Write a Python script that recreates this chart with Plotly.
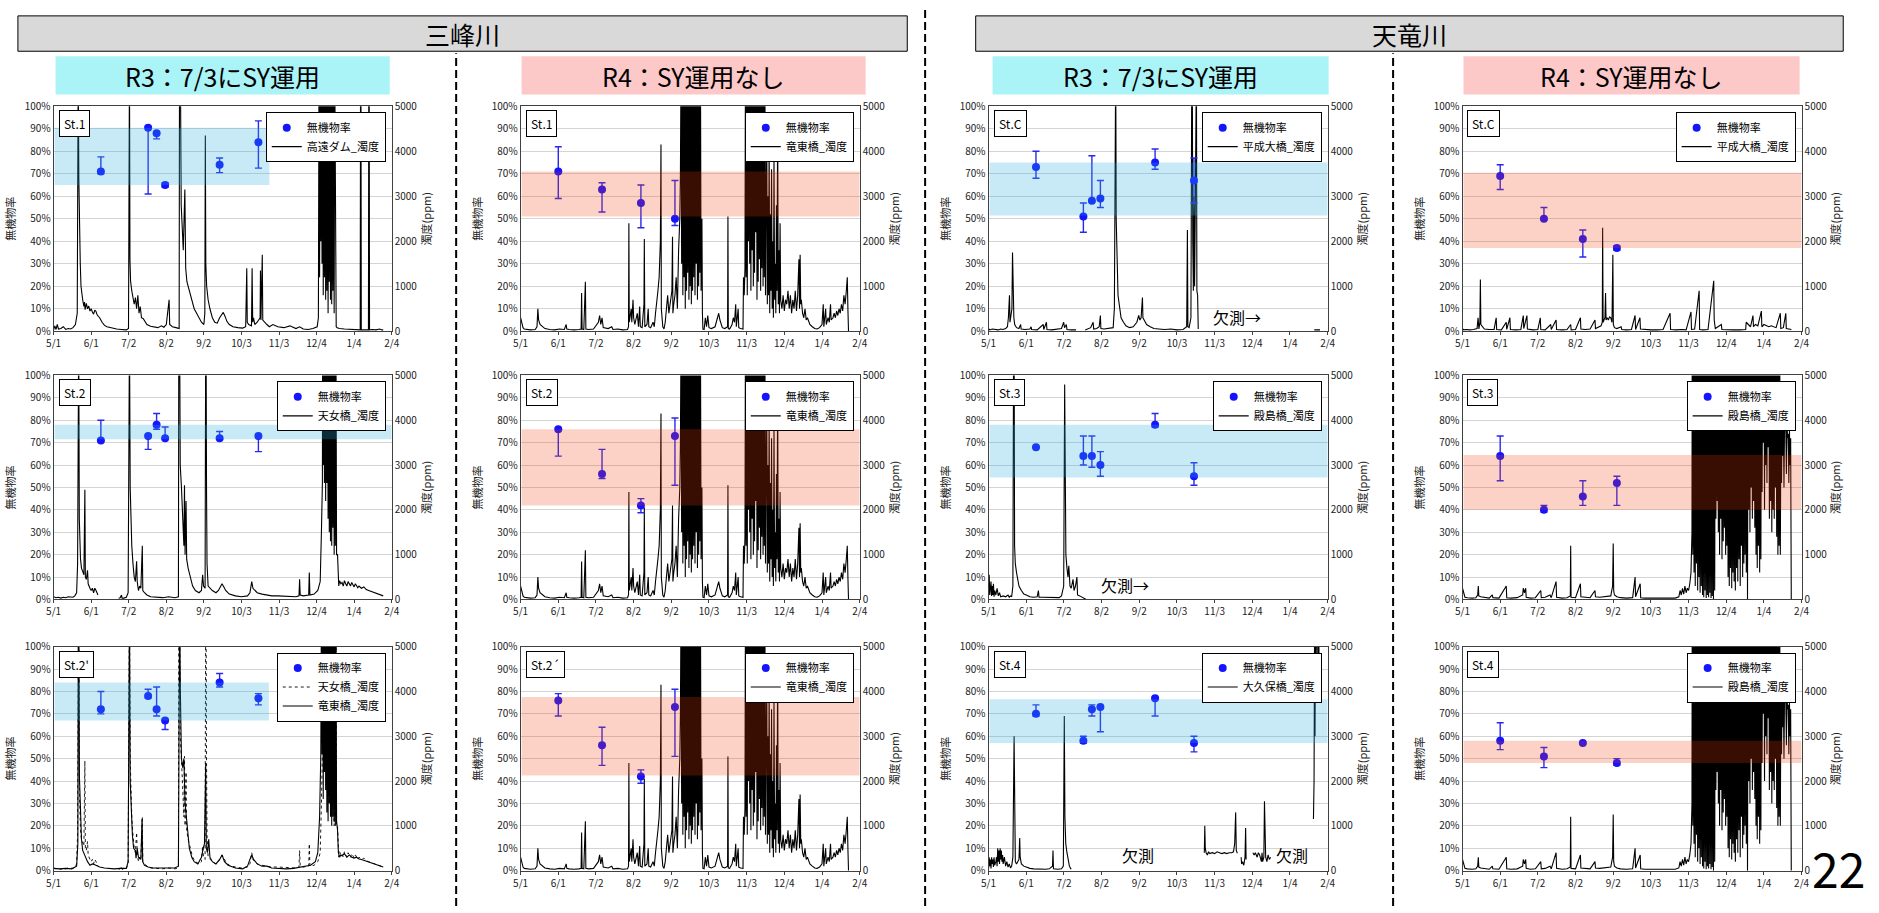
import pandas as pd
import plotly.graph_objects as go

W, H = 1879, 913
OFF = 6000  # turbidity peaks that run off the 5000 ppm scale

# ---------------- axis ticks ----------------
TICK_DAYS = [0, 31, 62, 93, 124, 155, 186, 217, 248, 279]
TICK_TEXT = ["5/1", "6/1", "7/2", "8/2", "9/2", "10/3", "11/3", "12/4", "1/4", "2/4"]
PCT_TICKS = list(range(0, 101, 10))
PCT_TEXT = [f"{v}%" for v in PCT_TICKS]
PPM_TICKS = [0, 1000, 2000, 3000, 4000, 5000]

# ---------------- sampling dates of 無機物率 ----------------
R3_SAMPLE = ["06-09", "07-18", "07-25", "08-01", "09-15", "10-17"]
R4_SAMPLE = ["06-01", "07-07", "08-08", "09-05"]

# ---------------- 無機物率 (%) with error bars ----------------
ST1_R3 = [71, 90.5, 88, 65, 74, 84]
ST1_R3_HI = [6.5, 0.5, 0.3, 1, 3, 9.5]
ST1_R3_LO = [1, 29.5, 2.5, 1, 3.5, 11.5]
ST2_R3 = [71, 73, 78, 72, 72, 73]
ST2_R3_HI = [9, 0.3, 5, 5, 3, 0.3]
ST2_R3_LO = [0.3, 6, 2, 0.3, 0.3, 7]
ST2D_R3 = [72, 78, 72, 67, 84, 77]
ST2D_R3_HI = [8, 3, 10, 0.5, 4, 2]
ST2D_R3_LO = [2, 1, 3, 4, 2, 3]
STC_R3 = [73, 51, 58, 59, 75, 67]
STC_R3_HI = [7, 6, 20, 8, 6, 10]
STC_R3_LO = [5, 7, 0.3, 4, 3, 10]
ST3_R3 = [68, 64, 64, 60, 78, 55]
ST3_R3_HI = [0.3, 9, 9, 6, 5, 6]
ST3_R3_LO = [0.3, 4, 5, 5, 1, 4]
ST4_R3 = [70, 58, 72, 73, 77, 57]
ST4_R3_HI = [4, 2, 2, 0.3, 0.3, 3]
ST4_R3_LO = [1, 1, 3, 11, 8, 4]

ST1_R4 = [71, 63, 57, 50]
ST1_R4_HI = [11, 3, 8, 17]
ST1_R4_LO = [12, 10, 11, 3]
ST2_R4 = [76, 56, 42, 73]
ST2_R4_HI = [0.5, 11, 3, 8]
ST2_R4_LO = [12, 2, 3.3, 22]
ST2D_R4 = [76, 56, 42, 73]
ST2D_R4_HI = [3, 8, 3, 8]
ST2D_R4_LO = [7, 9, 3, 22]
STC_R4 = [69, 50, 41, 37]
STC_R4_HI = [5, 5, 4, 1]
STC_R4_LO = [6, 0.3, 8, 1]
ST3_R4 = [64, 40, 46, 52]
ST3_R4_HI = [9, 2, 7, 3]
ST3_R4_LO = [11, 1, 4, 10]
ST4_R4 = [58, 51, 57, 48]
ST4_R4_HI = [8, 4, 0.3, 2]
ST4_R4_LO = [4, 5, 0.3, 1]

# ---------------- turbidity (days after 5/1, ppm) ----------------
def dense(start, lows, tops=None):
    pts = []
    for k, lo in enumerate(lows):
        top = OFF if tops is None else tops[k]
        pts.append((start + k, top))
        pts.append((start + k + 0.5, lo))
    return pts

TAKATO_R3_A = [(0,30),(1,120),(2,40),(3,150),(4,50),(6,60),(8,100),(10,40),(12,60),(14,50),(16,80),(18,150),
    (19.5,400),(20.3,OFF),(20.8,3400),(21.3,2300),(22,1500),(22.6,1000),(23.3,800),(24,700),(25,550),(25.5,650),
    (26,480),(27,620),(28,500),(29,560),(30,450),(31,500),(32,430),(33,380),(34,470),(35,440),(36,360),(37,330),
    (38,300),(40,200),(42,130),(44,100),(48,70),(52,50),(56,40),(60,30),(61.8,60),(62.2,OFF),(62.6,OFF),(63,1600),
    (63.5,1120),(64.5,900),(65.5,700),(66.5,600),(67.5,750),(68.5,500),(69.5,800),(70.5,400),(71.5,550),(72.5,300),
    (74,280),(75.5,200),(77,150),(80,110),(83,100),(86,80),(89,120),(91,90),(93,150),(95.3,700),(95.8,150),(98,100),
    (101,80),(103.6,60),(103.9,OFF),(104.6,OFF),(105.3,2800),(106,2200),(107,1800),(108.3,3150),(109,1400),
    (110,1100),(111,1000),(112.5,800),(114,650),(116,500),(118,400),(120,300),(122,200),(124,150),(124.8,400),
    (125.2,4350),(125.6,1500),(126.3,1000),(127.5,700),(129,500),(131,300),(133,200),(135,180),(137,300),
    (139,380),(140,420),(141.5,330),(143,220),(145,150),(148,100),(152,80),(156,70),(158.5,100),(159.4,1400),
    (159.8,200),(161,150),(163.3,120),(163.8,1400),(164.3,200),(165,300),(166,150),(168,200),(170.4,300),
    (170.7,1350),(171.1,250),(172.2,1700),(172.6,250),(174,200),(176,150),(178,100),(181,150),(185,100),
    (190,80),(195,120),(200,60),(203,100),(206,50),(210,40),(214,60),(217.5,100),(218.5,300)]
TAKATO_R3_LOWS = [1200, 2000, 1500, 800, 1200, 700, 900, 400, 1100, 700, 600, 900, 400, 1000]
TAKATO_R3_B = [(233.2,100),(234,80),(236,60),(240,50),(245,40),(250,40),(253,30),(253.3,OFF),(253.6,OFF),
    (253.9,30),(256,30),(259.8,30),(260.1,OFF),(260.4,OFF),(260.7,30),(263,40),(266,30),(269,50),(271,30),(272,30)]
TAKATO_R3 = TAKATO_R3_A + dense(219, TAKATO_R3_LOWS) + TAKATO_R3_B

TENNYO_R3_A = [(0,60),(2,40),(4,50),(6,30),(8,50),(10,40),(12,60),(14,50),(16,50),(17.5,80),(19,150),(19.8,800),
    (20.3,OFF),(20.7,OFF),(21.2,1800),(21.6,1300),(22.2,900),(23,700),(24,600),(25,550),(25.8,2450),(26.2,500),
    (27,450),(28,650),(28.5,350),(29,300),(30,250),(31,200),(32,250),(33,150),(34,250),(35,200),(36,150),
    (36.6,100), None, (53.7,30),(55,40),(56,100),(56.5,30),(58,30),(60,50),(61.5,150),(61.8,2900),(62.3,OFF),
    (62.6,OFF),(63.2,2500),(63.7,1800),(64.5,1200),(65.5,800),(66.5,500),(67.5,400),(68.5,850),(69,400),(70,200),
    (71,300),(72,250),(73.2,1200),(73.6,200),(75,150),(77,100),(80,60),(85,50),(90,40),(95,60),(100,40),(103,60),
    (103.3,OFF),(104,OFF),(104.5,3000),(105.5,2500),(106.5,1800),(107.5,1200),(108,2550),(108.5,1000),
    (109.3,2200),(109.8,900),(111,700),(113,500),(114.7,300),(117,200),(120,150),(122,200),(123,550),(123.7,300),
    (125,250),(125.5,OFF),(125.8,OFF),(126.2,2400),(126.6,800),(127.5,300),(129,250),(131,200),(134,150),
    (136,200),(138,300),(139,350),(140.5,280),(142,200),(145,120),(150,80),(155,60),(160,80),(162,150),
    (163.5,400),(164.5,250),(166,200),(168,150),(172,120),(176,100),(178,100),(180,80),(185,80),(190,70),
    (195,60),(200,60),(202.5,80),(203,450),(203.5,100),(206,80),(210.5,100),(211,600),(211.5,100),(215,120),
    (218,200),(220,400),(221,1500),(221.8,2600)]
TENNYO_R3_LOWS = [3000, 2600, 2200, 2600, 1800, 1500, 1300, 1200, 1600, 1000, 1200, 1000]
TENNYO_R3_B = [(234.3,1000),(235.3,300),(236,420),(237,350),(238,380),(239,300),(240,420),(241,350),(242,300),
    (243,400),(244,350),(245,300),(246,380),(247,320),(248,280),(249,350),(250,300),(251,260),(252,300),
    (254,250),(256,280),(258,220),(260,200),(262,180),(264,160),(266,140),(268,120),(270,100),(272,80)]
TENNYO_R3 = TENNYO_R3_A + dense(222, TENNYO_R3_LOWS) + TENNYO_R3_B

RYUTO_R3_A = [(0,50),(5,40),(10,50),(15,40),(19,100),(20,600),(20.4,OFF),(20.8,OFF),(21.3,2100),(22,1200),
    (23,700),(24,450),(25,380),(26,300),(28,200),(30,120),(32,150),(34,130),(36,100),(38,80),(42,60),(46,50),
    (50,40),(55,50),(58,40),(60,50),(61.5,200),(61.9,2400),(62.3,OFF),(62.6,OFF),(63.2,2000),(64,1200),(65,800),
    (66,500),(67.5,450),(68,280),(69,500),(70,300),(72,250),(73,1150),(73.5,200),(75,120),(78,80),(82,60),
    (88,60),(95,50),(100,60),(103,100),(103.4,OFF),(104,OFF),(104.6,4000),(105.5,2500),(106.5,2300),
    (107.5,2500),(108.5,1500),(109.5,1200),(110.5,800),(112,500),(114,300),(116,200),(119,150),(122,300),
    (123.5,500),(124.5,600),(125.5,2400),(126,500),(127,400),(128,700),(129,300),(131,200),(134,150),
    (137,250),(139,350),(141,200),(144,120),(150,60),(156,40),(160,100),(162,250),(163.5,350),(165,250),
    (168,150),(172,100),(176,100),(180,60),(186,50),(192,40),(198,50),(203,80),(208,100),(212,120),(216,200),
    (218,400),(219.5,1200),(220.5,2600)]
RYUTO_R3_LOWS = [2600, 1600, 2200, 1800, 1300, 1100, 1500, 1200, 1000, 1200, 1100, 1000, 1100]
RYUTO_R3_B = [(234.3,900),(235,400),(236,300),(237,350),(238,330),(240,380),(242,300),(244,350),(246,300),
    (248,280),(250,300),(252,260),(254,250),(256,230),(258,220),(260,200),(263,170),(266,140),(269,110),(272,80)]
RYUTO_R3 = RYUTO_R3_A + dense(221, RYUTO_R3_LOWS) + RYUTO_R3_B

RYUTO_R4_A = [(0,300),(0.5,250),(1,150),(2,80),(3,50),(5,40),(8,30),(12,40),(13.5,100),(14.2,500),(14.8,250),
    (16,150),(18,100),(20,60),(24,40),(28,30),(32,50),(36,40),(37.5,150),(38,50),(40,40),(44,30),(48,40),
    (49.8,50),(50.2,850),(50.6,50),(52,40),(53.3,1100),(53.7,50),(56,40),(60,50),(64,200),(65,350),(66,150),
    (67,300),(68,80),(72,60),(75,100),(76,40),(80,50),(84,30),(88,40),(88.8,100),(89.1,2400),(89.4,200),
    (90,300),(91,500),(91.5,200),(92.5,700),(93,300),(94,150),(96,400),(97,100),(98,550),(98.5,100),(100,80),
    (101.5,600),(101.8,2050),(102.2,100),(104,150),(105,500),(105.5,100),(107,80),(109,200),(110,100),
    (111,400),(112,600),(113,900),(114,1200),(115,2000),(115.5,4150),(115.8,500),(117,100),(118,50),(119,200),
    (120,500),(121,800),(122,400),(123,600),(124.5,900),(125,2100),(125.3,400),(126,600),(127,800),(128,1200),
    (129,500),(130,1800),(131,2500),(131.5,3500)]
RYUTO_R4_LOWS1 = [1500, 800, 1200, 500, 900, 1300, 700, 1000, 600, 900, 1200, 800, 1500, 700, 1000, 1300, 900]
RYUTO_R4_B = [(149.2,2500),(149.6,400),(150,50),(151,40),(152,300),(153,100),(154,350),(155,80),(157,60),
    (160,100),(162,300),(163,400),(164,250),(165,150),(166,80),(168,60),(170.3,100),(170.6,2550),(170.9,60),
    (172,50),(174,150),(175,300),(176,200),(177,600),(177.5,100),(179,500),(179.5,80),(181,60),(183,50),
    (183.4,1200),(184,800),(184.6,1400)]
RYUTO_R4_LOWS2 = [1200, 800, 2000, 1500, 900, 1800, 1000, 1300, 2200, 700, 1100, 1600, 900, 1400, 1000, 1200, 800]
RYUTO_R4_C = [(202.5,4800),(203,600),(203.5,3000),(204,800),(204.5,4300),(205,400),(205.5,2600),(206,900),
    (206.5,3600),(207,500),(207.5,2000),(208,300),(208.5,3900),(209,700),(209.5,1500),(210,400),(210.5,2800),
    (211,900),(211.5,4800),(212,600),(212.5,1800),(213,400),(213.5,2400),(214,700),(215,500),(216,800),
    (217,450),(218,700),(219,600),(220,900),(221,500),(222,800),(223,400),(224,700),(225,500),(226,900),
    (227,450),(228,800),(229,1600),(229.5,500),(230,1700),(230.5,600),(231,700),(232,400),(233,300),(234,500),
    (235,250),(236,300),(237,200),(238,150),(240,100),(242,60),(244,50),(246,80),(248,150),(249,600),
    (249.5,100),(250,200),(251,500),(251.5,150),(253,300),(254,200),(255,600),(255.5,250),(257,300),(258,400),
    (259,300),(260,450),(261,350),(262,500),(263,400),(264,600),(265,450),(266,800),(267,600),(268,900),
    (268.8,1200),(269.3,500),(269.8,0)]
RYUTO_R4 = RYUTO_R4_A + dense(132, RYUTO_R4_LOWS1) + RYUTO_R4_B + dense(185, RYUTO_R4_LOWS2) + RYUTO_R4_C

HEISEI_R3 = [(0,60),(1,30),(3,50),(5,40),(8,30),(10,50),(12,40),(14,60),(15.5,100),(16.3,300),(17.2,800),
    (17.6,200),(18.3,300),(19.2,500),(19.7,1750),(20.2,1000),(20.8,300),(21.5,150),(23,80),(25,60),(26.4,150),
    (26.8,50),(30,40),(34,50),(35,100),(35.4,40),(40,30),(45,150),(45.4,40),(47.6,200),(48,40),(52,30),(56,40),
    (60,60),(61.8,200),(62.5,80),(64,150),(64.5,40),(68,30),(72,30), None, (79.5,30),(82,50),(84,80),(86,200),
    (86.5,50),(89,60),(91,100),(92,350),(92.4,60),(95,50),(100,60),(102.5,80),(103.5,500),(104.2,OFF),
    (104.6,OFF),(105,2500),(105.7,1200),(106.5,800),(107.5,600),(109,300),(111,200),(113,120),(116,80),
    (119,100),(122,200),(123.5,350),(124.5,250),(125.5,300),(126.6,750),(127,300),(128,250),(130,150),
    (133,100),(136,60),(140,50),(145,40),(150,50),(155,30),(160,40),(163,100),(163.6,2250),(164,100),(165,80),
    (166.5,300),(167.2,OFF),(167.6,OFF),(168,2000),(168.5,900),(169,3000),(169.5,1000),(170,2500),(170.6,OFF),
    (171,OFF),(171.4,900),(172,800),(172.5,50), None, (268,30),(272.7,30)]

HEISEI_R4 = [(0,60),(1,30),(3,40),(6,30),(9,40),(12,60),(12.8,300),(13.5,50),(14.3,200),(14.7,1150),(15.1,150),
    (16,120),(17,100),(18,50),(22,40),(26,40),(27.7,300),(28.1,40),(32,30),(36,200),(36.4,40),(39,300),
    (39.4,40),(44,30),(48,40),(50,350),(50.4,60),(53,350),(53.4,50),(58,30),(62,40),(64,300),(64.4,40),(68,30),
    (72.6,150),(73,40),(77,250),(77.4,40),(82,30),(86,40),(89,150),(89.4,30),(93,40),(97,300),(97.4,50),
    (101,40),(105,50),(109,250),(109.4,60),(112,100),(114,120),(115,200),(115.3,2300),(115.7,200),(116.5,250),
    (117.2,300),(117.7,850),(118.1,250),(119,300),(120,250),(121,320),(122,300),(123,200),(123.7,1700),
    (124.1,150),(125,80),(127,60),(130.5,100),(131,40),(135,30),(139,40),(142,350),(142.4,40),(146,300),
    (146.4,50),(150,40),(155,30),(160,30),(165,40),(170.8,400),(171.2,40),(176,30),(180,40),(184,30),(188,430),
    (188.4,40),(191,50),(194.7,900),(195.1,40),(198,30),(202,40),(206.7,1120),(207.1,250),(208,60),(213,150),
    (213.4,40),(218,30),(223,30),(228,30),(233,40),(233.4,200),(235,150),(237,100),(239,350),(239.4,100),
    (241,150),(243,120),(245.9,450),(246.3,100),(248,150),(250,120),(252,100),(254,120),(256,100),(258,80),
    (261.5,400),(261.9,60),(264,80),(266,400),(266.4,60),(268,50),(270.6,40)]

TONO_R3 = [(0,100),(0.5,550),(1,100),(1.5,300),(2,400),(2.5,80),(3,300),(3.5,100),(4,350),(4.5,60),(5,200),
    (6,100),(7,250),(8,80),(9,150),(10,60),(12,80),(14,60),(16,100),(17,50),(18,80),(19,60),(20,300),(20.6,OFF),
    (21,OFF),(21.4,1200),(22,800),(23,600),(24,450),(25,300),(27,200),(29,120),(31,100),(34,60),(37,50),(40,60),
    (41,200),(41.5,50),(45,50),(50,40),(55,40),(58,40),(60,80),(61.8,300),(62.6,4800),(63,1500),(63.6,1000),
    (64.5,700),(65.3,500),(66,750),(67,300),(68,250),(69.5,450),(70.3,200),(71.5,300),(72.7,500),(73.2,100),
    (75,80),(78,30),(80.3,0)]

TONO_R4_A = [(0,250),(0.5,200),(1,100),(2,50),(4,40),(8,30),(11,40),(12.5,100),(13,300),(13.4,80),(15,60),
    (18,40),(22,30),(24.5,100),(25,40),(30,30),(36,300),(36.4,40),(40,30),(45,40),(49.5,100),(50,250),(51,150),
    (52,250),(52.4,50),(56,30),(60,40),(64.4,200),(64.8,40),(68,50),(72,100),(73,40),(77,400),(77.4,50),(82,30),
    (86,40),(88.7,80),(89,1200),(89.3,50),(93,40),(97,350),(97.4,60),(101,50),(105,40),(109,200),(109.4,60),
    (113,50),(118,60),(122,80),(123.5,300),(124,1250),(124.4,200),(125,100),(127,60),(130,40),(135,30),(140,40),
    (142,500),(142.4,60),(146.2,350),(146.6,40),(150,30),(155,30),(160,30),(165,30),(170,30),(175,30),(178,60),
    (179,200),(180,100),(181,250),(182,120),(183,300),(184,150),(185,250),(186,200),(187,350),(188,600),
    (188.8,1500)]
TONO_R4_LOWS = [1000, 600, 300, 800, 200, 500, 150, 300, 100, 50, 200, 30, 100, 50, 150, 30, 80, 0, 200,
    1800, 2200, 1500, 1000, 1800, 900, 1300, 1600, 1000, 1200, 500, 300, 700, 250, 600, 400, 200, 700, 400,
    900, 300, 1200, 500, 800, 1000, 600, 0, 2000, 1500, 2500, 1800, 2200, 1600, 1000, 700, 1200, 600, 900,
    2400, 3500, 2000, 3000, 2600, 3400, 1800, 2200, 1500, 2000, 1800, 2500, 1400, 1000, 1200, 1000, 2600,
    3200, 2500, 3800, 2800, 3600, 2600, 3000, 0]
TONO_R4_TOPS = [OFF] * 73 + [4200, 4000, 3900, 4000, 3800, 3900, 3700, 3800, 3600]
TONO_R4 = TONO_R4_A + dense(189, TONO_R4_LOWS, TONO_R4_TOPS)

OKUBO_R3 = [(0,50),(0.5,300),(1,100),(1.5,250),(2,50),(2.5,300),(3,150),(3.5,250),(4,80),(4.5,300),(5,120),
    (6,200),(6.5,300),(7,100),(7.5,500),(8,200),(8.5,450),(9,150),(9.5,500),(10,250),(10.5,450),(11,200),
    (11.5,350),(12,150),(13,300),(14,100),(15,200),(16,80),(17,150),(18,60),(19,100),(20,300),(21,3000),
    (21.4,300),(22,200),(23,150),(25,250),(25.6,730),(26,300),(27,150),(29,100),(31,80),(34,50),(37,40),
    (42,30),(47,30),(50,40),(52.6,100),(53,450),(53.4,40),(57,30),(60,40),(61.5,100),(62.3,3450),(62.8,1200),
    (63.5,600),(64.5,400),(65.5,200),(66.5,100),(67.5,50),(68,30), None,
    (177.5,400),(177.9,1000),(178.3,500),(179,400),(180,350),(181,420),(182,380),(184,400),(186,380),(188,420),
    (190,400),(192,380),(194,400),(196,380),(198,400),(200,400),(201.5,420),(202.5,600),(203.3,1300),
    (203.8,450),(204.5,400),(205,400), None,
    (207.8,300),(208.2,150),(209,200),(210,120),(211,300),(211.5,950),(211.9,250), None,
    (217.5,400),(218.5,350),(219.5,400),(221,300),(222,400),(223,350),(224.5,200),(225,400),(225.5,200),
    (226.5,300),(227,1550),(227.5,400),(228,300),(229,200),(230,350),(231,250),(232,300), None,
    (267.3,1150),(267.8,2000),(268.3,OFF),(268.6,3000),(269,OFF),(269.3,4500),(269.7,OFF),(270,5000),
    (270.5,OFF),(271,4500),(271.5,OFF),(272,4400),(272.7,4400)]

# ---------------- panel definitions ----------------
BLUE_BAND = "rgba(40,175,222,0.26)"
PINK_BAND = "rgba(242,60,10,0.23)"

PANELS = [
    dict(st="St.1", yr=2021, lines=[("高遠ダム_濁度", TAKATO_R3, "solid")], v=ST1_R3, hi=ST1_R3_HI, lo=ST1_R3_LO, band=(65, 90.5), bend=178, bc=BLUE_BAND),
    dict(st="St.1", yr=2022, lines=[("竜東橋_濁度", RYUTO_R4, "solid")], v=ST1_R4, hi=ST1_R4_HI, lo=ST1_R4_LO, band=(51, 71), bend=279, bc=PINK_BAND),
    dict(st="St.C", yr=2021, lines=[("平成大橋_濁度", HEISEI_R3, "solid")], v=STC_R3, hi=STC_R3_HI, lo=STC_R3_LO, band=(51.5, 75), bend=279, bc=BLUE_BAND),
    dict(st="St.C", yr=2022, lines=[("平成大橋_濁度", HEISEI_R4, "solid")], v=STC_R4, hi=STC_R4_HI, lo=STC_R4_LO, band=(37, 70.5), bend=279, bc=PINK_BAND),
    dict(st="St.2", yr=2021, lines=[("天女橋_濁度", TENNYO_R3, "solid")], v=ST2_R3, hi=ST2_R3_HI, lo=ST2_R3_LO, band=(71.5, 78), bend=279, bc=BLUE_BAND),
    dict(st="St.2", yr=2022, lines=[("竜東橋_濁度", RYUTO_R4, "solid")], v=ST2_R4, hi=ST2_R4_HI, lo=ST2_R4_LO, band=(42, 76), bend=279, bc=PINK_BAND),
    dict(st="St.3", yr=2021, lines=[("殿島橋_濁度", TONO_R3, "solid")], v=ST3_R3, hi=ST3_R3_HI, lo=ST3_R3_LO, band=(54.5, 78), bend=279, bc=BLUE_BAND),
    dict(st="St.3", yr=2022, lines=[("殿島橋_濁度", TONO_R4, "solid")], v=ST3_R4, hi=ST3_R4_HI, lo=ST3_R4_LO, band=(40, 64.5), bend=279, bc=PINK_BAND),
    dict(st="St.2'", yr=2021, lines=[("天女橋_濁度", TENNYO_R3, "dot"), ("竜東橋_濁度", RYUTO_R3, "solid")], v=ST2D_R3, hi=ST2D_R3_HI, lo=ST2D_R3_LO, band=(67, 84), bend=177.6, bc=BLUE_BAND),
    dict(st="St.2´", yr=2022, lines=[("竜東橋_濁度", RYUTO_R4, "solid")], v=ST2D_R4, hi=ST2D_R4_HI, lo=ST2D_R4_LO, band=(42.5, 77.5), bend=279, bc=PINK_BAND),
    dict(st="St.4", yr=2021, lines=[("大久保橋_濁度", OKUBO_R3, "solid")], v=ST4_R3, hi=ST4_R3_HI, lo=ST4_R3_LO, band=(57, 76.5), bend=279, bc=BLUE_BAND),
    dict(st="St.4", yr=2022, lines=[("殿島橋_濁度", TONO_R4, "solid")], v=ST4_R4, hi=ST4_R4_HI, lo=ST4_R4_LO, band=(48, 58), bend=279, bc=PINK_BAND),
]

# plot-area pixel geometry (left, right) / (top, bottom)
COLS = [(46, 387), (517, 859), (989, 1331), (1467, 1809)]
ROWS = [(99, 328), (373, 601), (649, 877)]

FONT = "Noto Sans CJK JP"


def day(year, d):
    return pd.Timestamp(year=year, month=5, day=1) + pd.Timedelta(days=d)


def series_xy(year, pts):
    xs, ys = [], []
    for p in pts:
        if p is None:
            xs.append(None)
            ys.append(None)
        else:
            xs.append(day(year, p[0]))
            ys.append(p[1])
    return xs, ys


fig = go.Figure()
layout = {}
shapes = []
annotations = []

for i, p in enumerate(PANELS):
    r, c = divmod(i, 4)
    n = i + 1
    xl, xr = COLS[c]
    yt, yb = ROWS[r]
    xname = "x" if n == 1 else f"x{n}"
    yb_name = f"y{2 * n - 1}" if n > 1 else "y"      # turbidity (base, right side)
    yp_name = f"y{2 * n}"                             # inorganic ratio (left side)
    leg = "legend" if n == 1 else f"legend{n}"
    yr = p["yr"]
    sample = R3_SAMPLE if yr == 2021 else R4_SAMPLE

    # turbidity lines
    for rank, (nm, pts, dash) in enumerate(p["lines"]):
        xs, ys = series_xy(yr, pts)
        fig.add_trace(go.Scatter(
            x=xs, y=ys, mode="lines", name=nm, xaxis=xname, yaxis=yb_name,
            line=dict(color="black", width=(0.9 if dash == "dot" else 1.1), dash=dash), connectgaps=False,
            legend=leg, legendrank=2 + rank, hoverinfo="skip"))

    # inorganic ratio with error bars
    fig.add_trace(go.Scatter(
        x=[pd.Timestamp(f"{yr}-{md}") for md in sample], y=p["v"], mode="markers",
        name="無機物率", xaxis=xname, yaxis=yp_name, legend=leg, legendrank=1,
        marker=dict(color="rgb(20,20,255)", size=8),
        error_y=dict(type="data", symmetric=False, array=p["hi"], arrayminus=p["lo"],
                     color="rgb(40,40,240)", thickness=1.4, width=3.5)))

    ax_common = dict(showline=True, linecolor="#404040", linewidth=1,
                     tickfont=dict(size=10, color="#222", family=FONT))
    xkey = "xaxis" if n == 1 else f"xaxis{n}"
    layout[xkey] = dict(
        domain=[xl / W, xr / W], anchor=yb_name, type="date",
        range=[day(yr, 0), day(yr, 279)],
        tickvals=[day(yr, d) for d in TICK_DAYS], ticktext=TICK_TEXT,
        showgrid=False, mirror=True, ticks="outside", ticklen=3, tickcolor="#404040",
        **ax_common)
    ybkey = "yaxis" if n == 1 else f"yaxis{2 * n - 1}"
    layout[ybkey] = dict(
        domain=[1 - yb / H, 1 - yt / H], anchor=xname, side="right",
        range=[0, 5000], tickvals=PPM_TICKS, ticktext=[str(v) for v in PPM_TICKS],
        showgrid=False, zeroline=False,
        title=dict(text="濁度(ppm)", font=dict(size=11, family=FONT, color="#222"), standoff=6),
        **ax_common)
    layout[f"yaxis{2 * n}"] = dict(
        overlaying=yb_name, anchor=xname, side="left",
        range=[0, 100], tickvals=PCT_TICKS, ticktext=PCT_TEXT,
        showgrid=True, gridcolor="#d4d4d4", gridwidth=1, zeroline=False,
        title=dict(text="無機物率", font=dict(size=11, family=FONT, color="#222"), standoff=6),
        **ax_common)

    # legend box at the plot's upper right
    layout[leg] = dict(
        x=(xr - 6) / W, y=1 - (yt + 6) / H, xanchor="right", yanchor="top",
        bgcolor="white", bordercolor="black", borderwidth=1,
        font=dict(size=11, family=FONT, color="black"), tracegroupgap=0,
        itemwidth=30)

    # band (semi-transparent, drawn above the data)
    lo_b, hi_b = p["band"]
    shapes.append(dict(type="rect", xref=xname, yref=yp_name,
                       x0=day(yr, 0.8), x1=day(yr, p["bend"]), y0=lo_b, y1=hi_b,
                       fillcolor=p["bc"], line=dict(width=0), layer="above"))

    # station label
    annotations.append(dict(
        text=p["st"], xref="paper", yref="paper", x=(xl + 5) / W, y=1 - (yt + 4) / H,
        xanchor="left", yanchor="top", showarrow=False, bgcolor="white",
        bordercolor="black", borderwidth=1, borderpad=4,
        font=dict(size=12, family=FONT, color="black")))

# ---------------- headers ----------------
def px_rect(x0, y0, x1, y1, fill, border=True):
    shapes.append(dict(type="rect", xref="paper", yref="paper",
                       x0=x0 / W, x1=x1 / W, y0=1 - y1 / H, y1=1 - y0 / H,
                       fillcolor=fill, line=dict(color="black", width=1 if border else 0),
                       layer="below"))


def px_text(x, y, text, size, xanchor="center", yanchor="middle"):
    annotations.append(dict(text=text, xref="paper", yref="paper", x=x / W, y=1 - y / H,
                            xanchor=xanchor, yanchor=yanchor, showarrow=False,
                            font=dict(size=size, family=FONT, color="black")))


RIVERS = [("三峰川", 10, 907), ("天竜川", 976, 1851)]
for name, x0, x1 in RIVERS:
    px_rect(x0, 7, x1, 43, "#d9d9d9")
    px_text((x0 + x1) / 2, 25, name, 25)

SUBHEADS = [("R3：7/3にSY運用", 48, 385, "#aaf3f6"), ("R4：SY運用なし", 518, 865, "#fdc8c8"),
            ("R3：7/3にSY運用", 993, 1332, "#aaf3f6"), ("R4：SY運用なし", 1468, 1807, "#fdc8c8")]
for text, x0, x1, col in SUBHEADS:
    px_rect(x0, 48, x1, 87, col, border=False)
    px_text((x0 + x1) / 2, 68, text, 25)

# dashed separators
for x, y0 in [(452, 45), (925, 0), (1397, 45)]:
    shapes.append(dict(type="line", xref="paper", yref="paper", x0=x / W, x1=x / W,
                       y0=0, y1=1 - y0 / H, line=dict(color="black", width=2, dash="8px,4px")))

# missing-data notes
px_text(1240, 313, "欠測→", 16)
px_text(1127, 586, "欠測→", 16)
px_text(1140, 861, "欠測", 16)
px_text(1295, 861, "欠測", 16)

# page number
px_text(1875, 911, "22", 48, xanchor="right", yanchor="bottom")

fig.update_layout(
    width=W, height=H, margin=dict(l=0, r=0, t=0, b=0),
    paper_bgcolor="white", plot_bgcolor="white",
    font=dict(family=FONT, color="black"),
    shapes=shapes, annotations=annotations, **layout)

fig.write_html("out.html")
